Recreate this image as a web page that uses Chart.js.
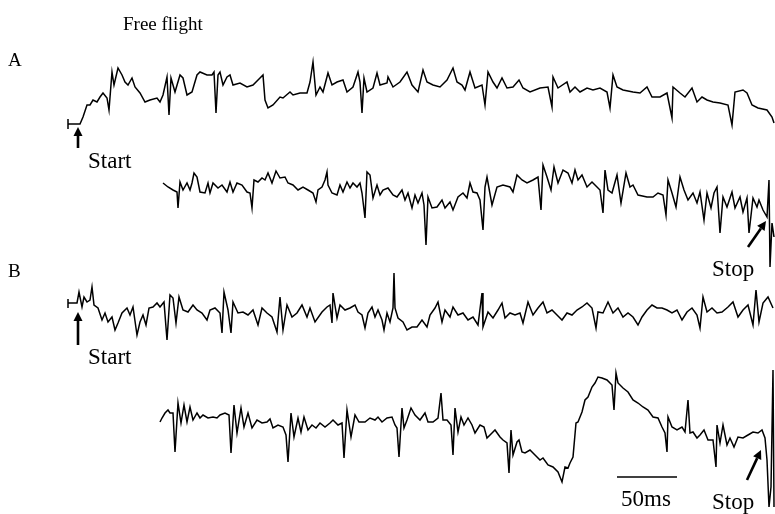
<!DOCTYPE html>
<html>
<head>
<meta charset="utf-8">
<script src="https://cdn.jsdelivr.net/npm/chart.js@4/dist/chart.umd.min.js"></script>
<style>
  html, body { margin: 0; padding: 0; background: #fff; }
  #wrap { width: 775px; height: 514px; }
</style>
</head>
<body>
<div id="wrap"><canvas id="traces" width="775" height="514"></canvas></div>
<script>
// traces: [time position, trace level]
const traceA1 = [[68,119],[68,129],[68,124],[80,124],[83,117],[87,105],[90,105],[93,100],[97,102],[100,97],[103,93],[107,98],[109,110],[112,72],[114,85],[118,68],[122,75],[125,82],[128,85],[132,78],[135,87],[140,93],[145,102],[150,100],[157,98],[160,102],[163,95],[167,77],[169,115],[171,78],[175,92],[180,75],[183,78],[187,95],[192,92],[197,75],[200,72],[207,75],[212,75],[214,72],[216,113],[218,75],[220,72],[223,85],[227,77],[230,75],[233,85],[240,83],[247,87],[253,85],[260,78],[263,75],[265,100],[268,108],[273,105],[280,97],[283,98],[290,92],[293,95],[300,93],[307,93],[310,82],[313,62],[316,95],[320,87],[323,92],[328,73],[332,85],[337,82],[343,80],[347,92],[353,87],[358,72],[360,82],[362,113],[364,78],[367,92],[373,88],[377,73],[380,85],[387,83],[388,77],[393,87],[400,82],[407,72],[412,85],[418,92],[423,70],[427,82],[433,85],[440,87],[447,80],[453,68],[457,82],[462,85],[465,90],[470,72],[475,88],[482,85],[485,105],[488,72],[493,82],[497,88],[502,78],[507,88],[513,87],[519,80],[523,88],[530,92],[540,88],[548,87],[552,107],[553,77],[558,88],[567,82],[570,92],[575,87],[580,92],[587,88],[593,90],[600,88],[607,92],[610,108],[613,75],[617,87],[623,90],[633,92],[640,93],[647,87],[652,97],[660,97],[667,93],[672,118],[673,87],[680,93],[685,97],[692,88],[697,102],[702,97],[707,100],[713,102],[720,103],[728,105],[732,125],[735,92],[743,90],[747,93],[752,105],[758,108],[767,110],[772,117],[774,123]];

const traceA2 = [[163,183],[168,187],[173,190],[177,192],[178,208],[180,182],[183,190],[187,183],[190,190],[192,183],[194,173],[197,177],[200,192],[205,193],[208,183],[210,193],[213,183],[218,188],[222,185],[227,192],[230,182],[233,192],[237,183],[242,185],[247,192],[250,193],[252,208],[254,180],[258,182],[262,178],[265,180],[268,173],[272,183],[276,171],[280,178],[285,177],[288,183],[293,185],[298,190],[303,187],[308,190],[313,193],[316,202],[318,190],[322,187],[325,180],[327,172],[328,185],[332,193],[337,195],[340,185],[343,192],[347,182],[350,188],[353,183],[357,187],[360,183],[362,193],[365,218],[367,172],[370,175],[373,198],[377,185],[380,195],[383,190],[388,188],[393,195],[397,197],[402,190],[405,200],[408,193],[412,208],[415,195],[418,203],[422,193],[424,205],[426,245],[428,197],[432,208],[437,207],[442,200],[445,208],[450,202],[453,210],[458,197],[463,193],[467,198],[470,183],[473,192],[477,193],[480,200],[483,230],[485,187],[487,177],[492,205],[497,187],[503,185],[510,187],[513,192],[517,175],[522,180],[527,183],[533,180],[538,177],[541,210],[543,165],[547,177],[551,190],[554,167],[558,183],[563,170],[568,173],[572,183],[575,170],[578,180],[582,175],[587,187],[592,182],[597,187],[600,190],[603,213],[605,170],[608,190],[612,193],[617,175],[621,203],[626,173],[630,187],[633,185],[638,195],[647,197],[653,197],[658,193],[663,195],[666,215],[668,180],[672,193],[676,207],[680,177],[684,190],[688,200],[693,193],[697,203],[700,192],[704,220],[707,193],[711,208],[714,193],[717,187],[720,233],[723,197],[727,207],[732,192],[735,208],[740,197],[743,212],[747,198],[749,233],[753,198],[757,207],[759,200],[763,210],[767,217],[769,180],[770,267],[772,223],[774,237]];

const traceB1 = [[68,299],[68,308],[68,303],[77,303],[79,292],[82,307],[84,297],[87,302],[90,300],[92,287],[94,305],[98,308],[102,320],[105,313],[108,322],[112,317],[115,330],[118,323],[122,313],[127,308],[130,315],[133,307],[137,335],[140,322],[143,315],[146,325],[149,308],[153,307],[157,303],[160,307],[164,302],[167,340],[170,295],[173,298],[176,323],[179,297],[183,310],[188,312],[193,305],[197,310],[202,313],[207,320],[210,310],[215,308],[220,313],[222,333],[224,292],[228,310],[231,333],[233,302],[238,313],[243,312],[248,315],[253,310],[258,325],[262,308],[267,313],[272,317],[277,332],[280,297],[283,330],[287,305],[292,317],[297,313],[302,305],[307,317],[310,308],[315,322],[322,312],[327,307],[330,305],[332,323],[333,293],[337,318],[340,305],[345,310],[350,308],[355,305],[358,312],[362,315],[365,328],[368,313],[372,307],[375,317],[378,310],[382,320],[384,330],[387,313],[390,322],[393,308],[394,273],[395,308],[398,318],[403,322],[407,330],[412,327],[417,327],[422,320],[427,327],[430,315],[435,308],[438,302],[442,322],[445,310],[450,317],[453,307],[458,315],[463,313],[468,320],[473,317],[478,325],[482,293],[483,327],[488,312],[493,318],[498,310],[502,303],[505,318],[510,313],[515,315],[520,313],[523,323],[528,302],[533,315],[538,308],[543,302],[547,313],[552,310],[557,315],[562,320],[567,313],[572,315],[577,310],[582,307],[587,303],[592,308],[596,328],[598,312],[603,313],[608,302],[613,313],[618,308],[623,317],[628,313],[633,317],[638,325],[642,317],[647,310],[652,305],[657,308],[662,308],[667,310],[672,313],[677,310],[682,320],[687,312],[692,308],[697,315],[700,328],[703,297],[707,312],[712,308],[717,313],[722,312],[728,307],[733,302],[738,317],[743,310],[748,305],[753,325],[756,290],[759,322],[763,303],[768,297],[773,308]];

const traceB2 = [[160,422],[162,418],[165,413],[168,410],[170,413],[173,413],[175,452],[178,403],[181,423],[184,405],[187,422],[190,407],[193,420],[197,413],[200,418],[203,415],[208,418],[213,417],[217,418],[220,415],[225,413],[229,415],[231,453],[234,405],[237,433],[241,408],[244,427],[248,413],[252,428],[257,420],[262,423],[267,422],[270,419],[273,428],[278,425],[283,427],[286,435],[288,462],[291,413],[294,437],[298,418],[301,432],[304,417],[308,430],[312,425],[316,428],[320,423],[325,427],[330,423],[333,420],[338,425],[342,423],[344,458],[347,410],[351,437],[355,415],[359,422],[365,422],[370,418],[375,420],[378,417],[382,422],[387,418],[392,417],[395,425],[397,428],[399,457],[402,408],[404,428],[407,420],[411,408],[415,415],[420,420],[425,413],[428,422],[433,422],[438,418],[441,393],[443,420],[447,420],[451,425],[453,455],[455,408],[458,432],[461,417],[464,425],[468,418],[472,425],[475,433],[480,425],[484,427],[487,438],[492,433],[495,430],[500,437],[503,440],[507,443],[509,473],[511,430],[513,455],[517,442],[519,440],[522,452],[525,453],[530,450],[535,455],[540,460],[543,458],[548,465],[553,467],[558,472],[562,482],[565,467],[568,468],[570,463],[573,457],[576,423],[578,422],[582,412],[585,400],[588,397],[592,387],[595,383],[598,377],[602,378],[607,380],[612,385],[614,410],[616,373],[618,383],[623,388],[628,392],[633,400],[638,403],[643,407],[648,410],[653,417],[658,418],[662,427],[665,433],[667,452],[668,417],[672,427],[677,430],[682,427],[685,432],[688,400],[690,433],[693,432],[697,438],[700,435],[704,430],[708,440],[713,440],[716,467],[717,425],[720,443],[723,425],[727,445],[730,438],[734,447],[738,437],[743,438],[748,435],[753,432],[758,433],[762,430],[765,438],[767,460],[769,507],[771,487],[773,370],[774,507]];

// 50 ms scale bar
const scaleBar = [[617,477],[677,477]];

// labels: [text, x, y, size]
const labels = [
    ['Free flight', 123, 30, 19],
    ['A', 8, 66, 19],
    ['Start', 88, 168, 23],
    ['Stop', 712, 276, 23],
    ['B', 8, 277, 19],
    ['Start', 88, 364, 23],
    ['50ms', 621, 506, 23],
    ['Stop', 712, 509, 23]
];

// arrows: [tailX, tailY, headX, headY]
const arrows = [
    [78, 148, 78, 127],
    [748, 247, 766, 221],
    [78, 345, 78, 312],
    [747, 480, 761, 450]
];

const toPts = arr => arr.map(p => ({ x: p[0], y: p[1] }));

const traceStyle = {
    showLine: true,
    borderColor: '#000',
    borderWidth: 1.5,
    pointRadius: 0,
    tension: 0,
    fill: false
};

const annotate = {
    id: 'annotate',
    afterDraw(chart) {
        const ctx = chart.ctx;
        const sx = chart.scales.x, sy = chart.scales.y;
        ctx.save();
        ctx.fillStyle = '#000';
        ctx.strokeStyle = '#000';
        ctx.textBaseline = 'alphabetic';
        labels.forEach(l => {
            ctx.font = l[3] + 'px "Liberation Serif", "Times New Roman", serif';
            ctx.fillText(l[0], sx.getPixelForValue(l[1]), sy.getPixelForValue(l[2]));
        });
        arrows.forEach(a => {
            const x0 = sx.getPixelForValue(a[0]), y0 = sy.getPixelForValue(a[1]);
            const x1 = sx.getPixelForValue(a[2]), y1 = sy.getPixelForValue(a[3]);
            const ang = Math.atan2(y1 - y0, x1 - x0);
            const hl = 9, hw = 4.5;
            const bx = x1 - hl * Math.cos(ang), by = y1 - hl * Math.sin(ang);
            ctx.lineWidth = 2.6;
            ctx.beginPath();
            ctx.moveTo(x0, y0);
            ctx.lineTo(bx, by);
            ctx.stroke();
            ctx.beginPath();
            ctx.moveTo(x1, y1);
            ctx.lineTo(bx + hw * Math.sin(ang), by - hw * Math.cos(ang));
            ctx.lineTo(bx - hw * Math.sin(ang), by + hw * Math.cos(ang));
            ctx.closePath();
            ctx.fill();
        });
        ctx.restore();
    }
};

new Chart(document.getElementById('traces').getContext('2d'), {
    type: 'scatter',
    data: {
        datasets: [
            { ...traceStyle, data: toPts(traceA1) },
            { ...traceStyle, data: toPts(traceA2) },
            { ...traceStyle, data: toPts(traceB1) },
            { ...traceStyle, data: toPts(traceB2) },
            { ...traceStyle, data: toPts(scaleBar) }
        ]
    },
    options: {
        responsive: false,
        animation: false,
        devicePixelRatio: 1,
        layout: { padding: 0 },
        plugins: { legend: { display: false }, tooltip: { enabled: false } },
        scales: {
            x: { type: 'linear', min: 0, max: 775, display: false },
            y: { type: 'linear', min: 0, max: 514, reverse: true, display: false }
        }
    },
    plugins: [annotate]
});
</script>
</body>
</html>
